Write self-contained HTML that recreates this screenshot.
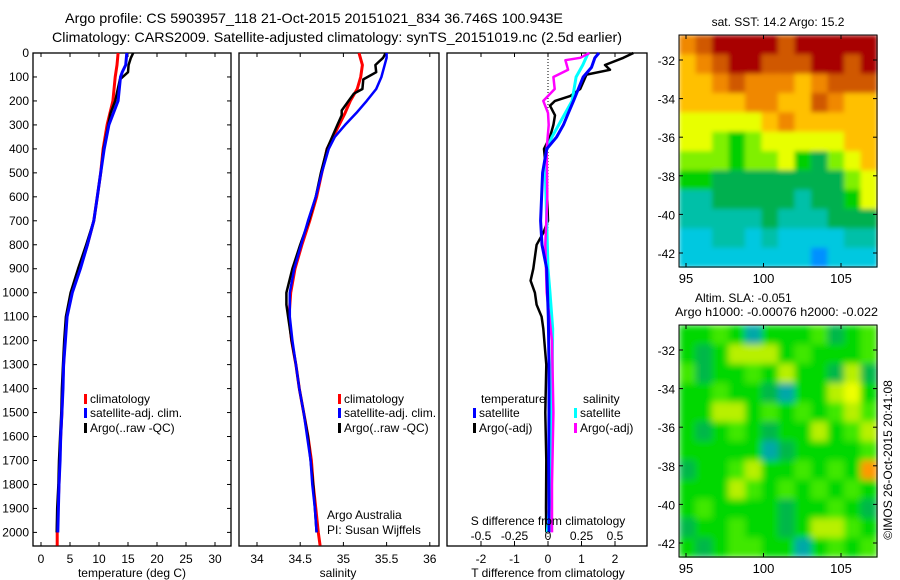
<!DOCTYPE html>
<html><head><meta charset="utf-8"><style>
html,body{margin:0;padding:0;background:#fff;}
svg{display:block;font-family:"Liberation Sans",Arial,sans-serif;}
</style></head><body>
<svg id="fig" width="900" height="580" viewBox="0 0 900 580" xmlns="http://www.w3.org/2000/svg">
<g id="titles" font-size="14" fill="#000">
<text x="65" y="23" textLength="498" lengthAdjust="spacingAndGlyphs">Argo profile: CS 5903957_118 21-Oct-2015 20151021_834 36.746S 100.943E</text>
<text x="52" y="42" textLength="570" lengthAdjust="spacingAndGlyphs">Climatology: CARS2009. Satellite-adjusted climatology: synTS_20151019.nc (2.5d earlier)</text>
</g>
<g id="layer"></g>
</svg>
<script>
// ---- profile data (depth in m) ----
const depthTclim = [0,50,100,200,300,400,500,600,700,800,900,1000,1100,1200,1300,1400,1500,1600,1700,1800,1900,2000,2055];
const tempClim   = [13.3,13.1,12.8,12.4,11.4,10.7,10.3,9.7,9.1,8.0,6.7,5.3,4.4,4.1,3.9,3.7,3.6,3.4,3.2,3.1,2.9,2.8,2.8];
const depthTsat  = [0,50,80,100,200,250,300,400,500,600,700,800,900,1000,1100,1200,1300,1400,1500,1600,1700,1800,1900,2000];
const tempSat    = [14.8,14.6,14.0,13.7,13.3,12.5,11.7,10.9,10.3,9.7,9.1,8.0,6.8,5.4,4.5,4.2,3.9,3.8,3.6,3.4,3.3,3.1,3.0,2.9];
const depthTargo = [0,20,50,80,110,200,250,300,400,500,600,700,800,900,1000,1100,1200,1300,1400,1500,1600,1700,1800,1900,2000];
const tempArgo   = [15.9,15.5,15.1,15.0,13.6,12.8,12.0,11.6,10.8,10.3,9.7,9.1,7.8,6.4,5.1,4.3,4.0,3.8,3.6,3.5,3.3,3.1,3.0,2.8,2.7];

const depthSclim = [0,50,100,150,200,250,300,400,500,600,700,800,900,1000,1100,1200,1300,1400,1500,1600,1700,1800,1900,2000,2055];
const salClim    = [35.18,35.22,35.20,35.16,35.08,35.02,34.95,34.81,34.75,34.69,34.61,34.52,34.44,34.39,34.37,34.40,34.45,34.49,34.54,34.59,34.63,34.65,34.68,34.71,34.73];
const depthSsat  = [0,20,100,150,200,250,300,350,400,500,600,700,800,900,1000,1100,1200,1300,1400,1500,1600,1700,1800,1900,2000];
const salSat     = [35.50,35.50,35.44,35.38,35.27,35.15,35.02,34.90,34.83,34.75,34.68,34.59,34.51,34.43,34.38,34.38,34.41,34.45,34.49,34.54,34.58,34.62,34.64,34.67,34.69];
const depthSargo = [0,20,50,80,110,150,170,200,240,260,300,400,500,600,700,800,900,1000,1050,1100,1200,1300,1400,1500,1600,1700,1800,1900,2000];
const salArgo    = [35.49,35.46,35.37,35.38,35.23,35.22,35.12,35.06,34.98,34.98,34.93,34.81,34.74,34.68,34.60,34.50,34.41,34.34,34.34,34.36,34.40,34.45,34.49,34.54,34.59,34.62,34.65,34.67,34.69];

const depthDT    = [0,20,60,100,200,250,300,350,400,500,700,800,900,1100,1300,1500,1700,1900,2000];
const dTsat      = [1.52,1.40,1.30,1.05,0.76,0.61,0.46,0.26,-0.04,-0.16,-0.22,-0.18,-0.04,0.01,0.03,0.03,0.02,0.03,0.03];
const depthDTa   = [0,20,50,70,90,150,180,200,220,260,300,350,400,500,700,750,800,900,950,1000,1050,1100,1150,1300,1500,1700,1900,2000];
const dTargo     = [2.55,2.25,1.70,1.85,1.15,0.96,0.66,0.21,0.06,0.21,0.16,0.06,-0.12,-0.05,0.0,-0.14,-0.34,-0.44,-0.52,-0.39,-0.34,-0.19,-0.14,-0.05,-0.08,-0.05,-0.06,-0.05];
const depthDS    = [0,50,100,200,250,300,350,400,500,700,900,1000,1150,1400,1700,1900,2000];
const dSsat      = [0.30,0.26,0.21,0.18,0.13,0.08,0.03,-0.01,-0.02,-0.01,0.0,0.015,0.035,0.03,0.02,0.01,-0.005];
const depthDSa   = [0,20,30,70,100,150,200,250,300,400,600,800,1000,1200,1500,1800,2000];
const dSargo     = [0.31,0.24,0.13,0.15,0.04,0.05,-0.035,0.0,0.005,-0.01,-0.005,-0.02,-0.01,0.03,0.04,0.03,0.03];

const depthTicks = [0,100,200,300,400,500,600,700,800,900,1000,1100,1200,1300,1400,1500,1600,1700,1800,1900,2000];
const tempTicks = [0,5,10,15,20,25,30];
const salTicks = [34,34.5,35,35.5,36];
const salTickLabels = ["34","34.5","35","35.5","36"];
const dTTicks = [-2,-1,0,1,2];
const dSTicks = [-0.5,-0.25,0,0.25,0.5];
const dSTickLabels = ["-0.5","-0.25","0","0.25","0.5"];

// ---- map data (colour index grids) ----
const lonTicks = [95,100,105];
const latTicks = [-32,-34,-36,-38,-40,-42];
const sstGrid = [
 [8,9,10,10,10,10,9,10,10,10,10,10],
 [7,8,9,10,10,9,9,9,10,10,9,10],
 [7,7,8,9,8,8,8,7,8,9,9,9],
 [7,7,7,7,8,8,7,7,9,8,7,7],
 [6,6,6,6,6,7,8,7,7,7,7,7],
 [6,6,5,4,5,6,6,6,6,6,7,7],
 [5,5,5,4,5,5,6,4,3,5,6,7],
 [4,4,3,3,3,3,3,3,3,3,5,6],
 [2,2,3,3,3,3,3,2,3,3,4,6],
 [2,2,2,2,2,3,2,2,2,3,3,3],
 [1,1,2,2,1,2,1,1,1,1,2,2],
 [1,1,1,1,1,1,1,1,0,1,1,1]];
const slaGrid = [
 [2,2,3,2,0,2,2,2,3,1,2,3],
 [2,1,2,4,4,4,2,3,2,2,2,3],
 [3,1,2,2,3,2,4,2,2,1,4,1],
 [2,2,3,2,2,1,0,2,2,4,5,2],
 [2,2,4,4,2,3,2,3,2,3,4,3],
 [2,1,2,3,2,1,2,2,4,2,3,4],
 [2,2,2,2,2,0,1,2,2,2,2,3],
 [1,2,2,3,4,2,2,3,2,3,2,6],
 [2,2,2,4,3,2,3,2,3,2,3,2],
 [2,3,2,2,2,2,1,2,2,3,2,1],
 [1,2,2,3,2,2,1,2,4,4,3,2],
 [2,1,2,3,3,2,2,0,2,3,2,3]];
const sstPal = ["#0090ff","#00c8e0","#00c0a8","#00b050","#00d000","#80f000","#e8ff00","#ffc000","#f08800","#d05800","#a80000"];
const slaPal = ["#00a8a8","#00b848","#00d800","#40e800","#b8f000","#eeff00","#ff9800"];

const NS="http://www.w3.org/2000/svg";
const layer=document.getElementById('layer');
function mk(tag,attrs,parent){const e=document.createElementNS(NS,tag);for(const k in attrs)e.setAttribute(k,attrs[k]);(parent||layer).appendChild(e);return e;}
function txt(s,x,y,attrs,parent){const e=mk('text',Object.assign({x:x,y:y},attrs||{}),parent);e.textContent=s;return e;}

const Y0=53, YB=546, dpx=0.2397;
const yD=d=>Y0+d*dpx;
const xT=t=>41+t*5.8;
const xS=s=>257+(s-34)*86.4;
const xDT=v=>548+v*33.5;
const xDS=v=>548+v*134;

function panel(name,x0,x1){
  const g=mk('g',{});
  
  
  const r=mk('rect',{x:x0,y:Y0,width:x1-x0,height:YB-Y0,fill:'none',stroke:'#000','stroke-width':1.3},g);
  
  
  return g;
}
function line(g,depths,vals,fx,color,w,name){
  const pts=depths.map((d,i)=>fx(vals[i]).toFixed(1)+','+yD(d).toFixed(1)).join(' ');
  const p=mk('polyline',{points:pts,fill:'none',stroke:color,'stroke-width':w,'stroke-linejoin':'round'},g);
  
  
}
function xticks(g,ticks,labels,fx,top){
  ticks.forEach((t,i)=>{
    const x=fx(t);
    mk('line',{x1:x,y1:YB,x2:x,y2:YB-4,stroke:'#000'},g);
    if(top) mk('line',{x1:x,y1:Y0,x2:x,y2:Y0+4,stroke:'#000'},g);
    const l=txt(labels[i],x,563,{'font-size':12,'text-anchor':'middle'},g);
    
    
  });
}
function legendEntry(g,x,y,color,label){
  mk('rect',{x:x,y:y-9,width:3,height:10,fill:color},g);
  const t=txt(label,x+6,y,{'font-size':12},g);
  
  
}

// Panel 1: temperature
const p1=panel('temperature-panel',33,231);
depthTicks.forEach(d=>{
  const y=yD(d);
  mk('line',{x1:33,y1:y,x2:37,y2:y,stroke:'#000'},p1);
  mk('line',{x1:231,y1:y,x2:227,y2:y,stroke:'#000'},p1);
  const l=txt(String(d),29,y+4,{'font-size':12,'text-anchor':'end'},p1);
  
  
});
xticks(p1,tempTicks,tempTicks.map(String),xT,true);
line(p1,depthTclim,tempClim,xT,'#ff0000',3,'temp-climatology-line');
line(p1,depthTargo,tempArgo,xT,'#000000',2.5,'temp-argo-line');
line(p1,depthTsat,tempSat,xT,'#0000ff',3,'temp-satellite-line');
const at1=txt('temperature (deg C)',132,577,{'font-size':12,'text-anchor':'middle'},p1);


legendEntry(p1,84,403,'#ff0000','climatology');
legendEntry(p1,84,417,'#0000ff','satellite-adj. clim.');
legendEntry(p1,84,432,'#000000','Argo(..raw -QC)');

// Panel 2: salinity
const p2=panel('salinity-panel',239,439);
xticks(p2,salTicks,salTickLabels,xS,true);
line(p2,depthSclim,salClim,xS,'#ff0000',3,'sal-climatology-line');
line(p2,depthSargo,salArgo,xS,'#000000',2.5,'sal-argo-line');
line(p2,depthSsat,salSat,xS,'#0000ff',2.5,'sal-satellite-line');
const at2=txt('salinity',338,577,{'font-size':12,'text-anchor':'middle'},p2);


legendEntry(p2,338,403,'#ff0000','climatology');
legendEntry(p2,338,417,'#0000ff','satellite-adj. clim.');
legendEntry(p2,338,432,'#000000','Argo(..raw -QC)');
const cr1=txt('Argo Australia',327,519,{'font-size':12},p2);


const cr2=txt('PI: Susan Wijffels',327,534,{'font-size':12},p2);



// Panel 3: differences
const p3=panel('difference-panel',447,647);
xticks(p3,dTTicks,dTTicks.map(String),xDT,true);
mk('line',{x1:548,y1:Y0,x2:548,y2:YB,stroke:'#000','stroke-dasharray':'1,2'},p3);
line(p3,depthDTa,dTargo,xDT,'#000000',2.5,'dT-argo-line');
line(p3,depthDS,dSsat,xDS,'#00ffff',3,'dS-satellite-line');
line(p3,depthDSa,dSargo,xDS,'#ff00ff',2.5,'dS-argo-line');
line(p3,depthDT,dTsat,xDT,'#0000ff',3,'dT-satellite-line');
dSTicks.forEach((t,i)=>{
  const x=xDS(t);
  mk('line',{x1:x,y1:YB,x2:x,y2:YB-5,stroke:'#000'},p3);
  const l=txt(dSTickLabels[i],x,540,{'font-size':12,'text-anchor':'middle'},p3);
  
  
});
const st=txt('S difference from climatology',548,525,{'font-size':12,'text-anchor':'middle'},p3);


const at3=txt('T difference from climatology',548,577,{'font-size':12,'text-anchor':'middle'},p3);


const lt=txt('temperature',481,403,{'font-size':12},p3);


const ls=txt('salinity',583,403,{'font-size':12},p3);


legendEntry(p3,473,417,'#0000ff','satellite');
legendEntry(p3,473,432,'#000000','Argo(-adj)');
legendEntry(p3,574,417,'#00ffff','satellite');
legendEntry(p3,574,432,'#ff00ff','Argo(-adj)');

// Maps
const MX0=679,MX1=877;
const xLon=lon=>686+(lon-95)*15.5;
function drawMap(name,grid,pal,y0,y1,latY,blur){
  const g=mk('g',{});
  
  
  const rows=grid.length, cols=grid[0].length;
  const cw=(MX1-MX0)/cols, ch=(y1-y0)/rows;
  if(blur){const f=mk('filter',{id:name+'-blur',x:0,y:0,width:1,height:1},g);mk('feGaussianBlur',{stdDeviation:blur,edgeMode:'duplicate'},f);}
  const inner=mk('g',blur?{filter:'url(#'+name+'-blur)'}:{},g);
  grid.forEach((row,r)=>row.forEach((v,c)=>{
    const cell=mk('rect',{x:(MX0+c*cw).toFixed(2),y:(y0+r*ch).toFixed(2),width:(cw+0.6).toFixed(2),height:(ch+0.6).toFixed(2),fill:pal[v]},inner);
    
    
  }));
  mk('rect',{x:MX0,y:y0,width:MX1-MX0,height:y1-y0,fill:'none',stroke:'#000','stroke-width':1},g);
  latTicks.forEach(lat=>{
    const y=latY(lat);
    mk('line',{x1:MX0,y1:y,x2:MX0+4,y2:y,stroke:'#000'},g);
    mk('line',{x1:MX1,y1:y,x2:MX1-4,y2:y,stroke:'#000'},g);
    const l=txt(String(lat),675,y+5,{'font-size':12,'text-anchor':'end'},g);
    
    
  });
  lonTicks.forEach(lon=>{
    const x=xLon(lon);
    mk('line',{x1:x,y1:y1,x2:x,y2:y1-4,stroke:'#000'},g);
    mk('line',{x1:x,y1:y0,x2:x,y2:y0+4,stroke:'#000'},g);
    const l=txt(String(lon),x,y1+16,{'font-size':13,'text-anchor':'middle'},g);
    
    
  });
  return g;
}
const m1=drawMap('sst-map',sstGrid,sstPal,35,267,lat=>60+(-32-lat)*19.3,2.5);
const m2=drawMap('sla-map',slaGrid,slaPal,325,557,lat=>350+(-32-lat)*19.3,3.5);
const t1=txt('sat. SST: 14.2 Argo: 15.2',778,26,{'font-size':12,'text-anchor':'middle'},m1);


const t2=txt('Altim. SLA: -0.051',695,302,{'font-size':12},m2);


const t3=txt('Argo h1000: -0.00076 h2000: -0.022',675,316,{'font-size':12,textLength:203,lengthAdjust:'spacingAndGlyphs'},m2);


const st2=txt('©IMOS 26-Oct-2015 20:41:08',0,0,{'font-size':12,'text-anchor':'middle',transform:'translate(892,460) rotate(-90)'});


</script>
</body></html>
